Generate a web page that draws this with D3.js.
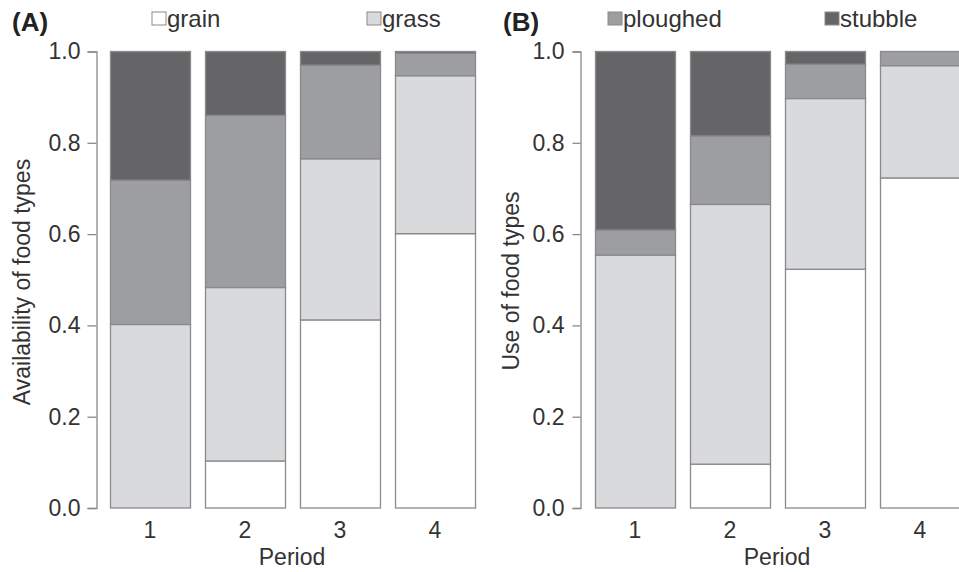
<!DOCTYPE html>
<html><head><meta charset="utf-8">
<script src="https://cdn.jsdelivr.net/npm/d3@7"></script>
<style>
html,body{margin:0;padding:0;background:#fff;}
svg{display:block;font-family:"Liberation Sans",Arial,Helvetica,sans-serif;}
</style></head><body>
<svg id="chart" width="959" height="572"></svg>
<script>
const periods = ["1","2","3","4"];
const foodTypes = ["grain","grass","ploughed","stubble"];
const availGrain    = [0.000, 0.103, 0.412, 0.601];
const availGrass    = [0.402, 0.380, 0.353, 0.346];
const availPloughed = [0.316, 0.377, 0.205, 0.049];
const availStubble  = [0.282, 0.140, 0.030, 0.004];
const useGrain    = [0.000, 0.096, 0.523, 0.723];
const useGrass    = [0.554, 0.569, 0.374, 0.246];
const usePloughed = [0.055, 0.150, 0.075, 0.031];
const useStubble  = [0.391, 0.185, 0.028, 0.000];
const yTicks = [0, 0.2, 0.4, 0.6, 0.8, 1.0];

const colors = {grain:"#ffffff", grass:"#d9dadc", ploughed:"#9d9ea2", stubble:"#656567"};
const strokeCol = "#8a8a8c";
const textCol = "#333333";
const FONT = "'Liberation Sans',Arial,sans-serif";

const svg = d3.select("#chart");
const y = d3.scaleLinear().domain([0,1]).range([508,51.5]);

function buildRows(g, gr, p, s){
  return periods.map((d,i)=>({period:d, grain:g[i], grass:gr[i], ploughed:p[i], stubble:s[i]}));
}

function panel(opts){
  const x = d3.scaleBand().domain(periods).range([opts.x0-7.5, opts.x0+380-7.5])
    .paddingInner(15/95).paddingOuter(7.5/95);
  const stack = d3.stack().keys(foodTypes)(opts.rows);
  const g = svg.append("g");
  stack.forEach(layer=>{
    g.selectAll(null).data(layer).enter().append("rect")
      .attr("x", d=>x(d.data.period)+0.5)
      .attr("width", x.bandwidth())
      .attr("y", d=>y(d[1]))
      .attr("height", d=>Math.max(0, y(d[0])-y(d[1])))
      .attr("fill", colors[layer.key])
      .attr("stroke", strokeCol)
      .attr("stroke-width", 1.3);
  });
  // y axis
  const ax = g.append("g").attr("transform", `translate(${opts.axisX},0)`)
    .call(d3.axisLeft(y).tickValues(yTicks).tickFormat(d3.format(".1f")).tickSize(opts.tickSize).tickPadding(opts.tickPad));
  ax.select(".domain").attr("stroke", strokeCol).attr("stroke-width",1.3);
  ax.selectAll(".tick line").attr("stroke", strokeCol).attr("stroke-width",1.3);
  ax.selectAll("text").attr("fill", textCol).style("font-size","23px").style("font-family",FONT);
  // x labels
  const xa = g.append("g").attr("transform","translate(0,508)")
    .call(d3.axisBottom(x).tickSize(0).tickPadding(14));
  xa.select(".domain").remove();
  xa.selectAll("text").attr("fill", textCol).style("font-size","23px").style("font-family",FONT);
  g.append("text").attr("x", opts.x0+182).attr("y", 565).attr("text-anchor","middle")
    .attr("fill", textCol).style("font-size","23px").text("Period");
  g.append("text").attr("transform",`translate(${opts.ylabX},${opts.ylabY}) rotate(-90)`)
    .attr("text-anchor","middle").attr("fill", textCol).style("font-size","23px").text(opts.ylab);
  g.append("text").attr("x", opts.tagX).attr("y", 31).attr("fill","#222")
    .style("font-size","26px").style("font-weight","bold").text(opts.tag);
  opts.legend.forEach(l=>{
    g.append("rect").attr("x", l.x).attr("y", 12).attr("width", 14).attr("height", 13)
      .attr("fill", colors[l.key]).attr("stroke", strokeCol).attr("stroke-width",1);
    g.append("text").attr("x", l.x+15).attr("y", 27).attr("fill", textCol)
      .style("font-size","24px").text(l.key);
  });
}

panel({x0:110, axisX:96.5, tickSize:9, tickPad:7, rows:buildRows(availGrain,availGrass,availPloughed,availStubble),
  ylab:"Availability of food types", ylabX:30, ylabY:282, tag:"(A)", tagX:12,
  legend:[{key:"grain",x:152},{key:"grass",x:367}]});
panel({x0:595, axisX:580.5, tickSize:8, tickPad:8, rows:buildRows(useGrain,useGrass,usePloughed,useStubble),
  ylab:"Use of food types", ylabX:519, ylabY:281, tag:"(B)", tagX:503,
  legend:[{key:"ploughed",x:608},{key:"stubble",x:825}]});
</script>
</body></html>
